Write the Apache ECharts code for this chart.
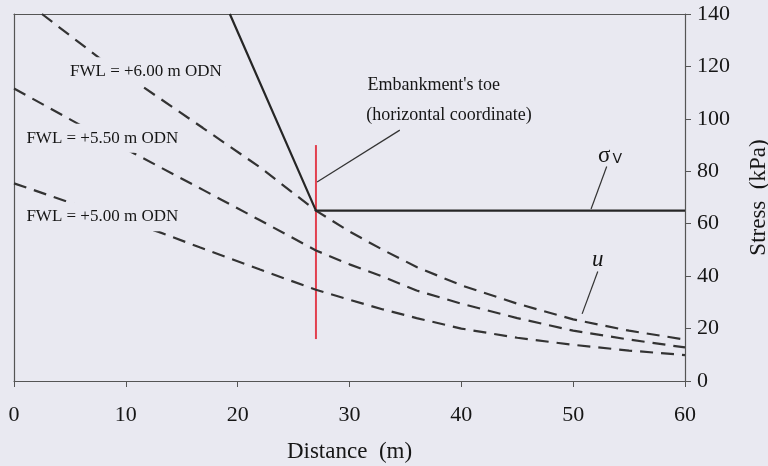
<!DOCTYPE html>
<html>
<head>
<meta charset="utf-8">
<script src="https://cdn.jsdelivr.net/npm/echarts@6/dist/echarts.min.js"></script>
<style>
  html, body { margin: 0; padding: 0; background: #e9e9f1; }
  #chart { width: 768px; height: 466px; }
</style>
</head>
<body>
<div id="chart"></div>
<script>
// Axis ticks
const xTicks = [0, 10, 20, 30, 40, 50, 60];
const yTicks = [0, 20, 40, 60, 80, 100, 120, 140];

// Total vertical stress beneath and beyond the embankment (distance m, kPa)
const sigmaV = [[19.3, 140], [27, 65], [60, 65]];

// Pore water pressure for three flood water levels (distance m, kPa)
const uFwl600 = [[2.5, 140], [7.7, 123], [11.6, 112], [16.9, 96.5], [22, 81.5], [27, 65],
  [30, 57], [33, 50], [36, 43.5], [40, 36.5], [45, 29.5], [50, 23.5], [55, 19.2], [60, 15.8]];
const uFwl550 = [[0, 111.6], [5.9, 97.7], [10.7, 86.9], [16.9, 72.9], [22, 61.3], [27, 49.8],
  [30, 44.5], [33, 39.8], [36, 34.5], [40, 29.5], [45, 24], [50, 19.2], [55, 15.8], [60, 12.8]];
const uFwl500 = [[0, 75.4], [5.2, 67.8], [10, 61], [13, 56.8], [16.6, 51], [22, 42.5], [27, 34.8],
  [30, 31], [33, 27.3], [36, 24], [40, 20], [45, 16.5], [50, 13.8], [55, 11.6], [60, 9.9]];

// Embankment toe (horizontal coordinate) marker
const toeX = 27;
const toeSpan = [16, 90];

const FONT = "'Liberation Serif', 'Times New Roman', serif";
const INK = '#161616';
const BG = '#e9e9f1';
const FRAME = '#555';

const chart = echarts.init(document.getElementById('chart'), null, { renderer: 'canvas' });

const dashed = (name, data) => ({
  name, type: 'line', data, showSymbol: false, silent: true, z: 2,
  lineStyle: { color: '#333', width: 2.2, type: [13, 8] }
});

// Curve labels (left edge of box, vertical centre) in data coordinates
const curveNotes = [
  { text: 'FWL = +6.00 m ODN', at: [4.65, 118.0] },
  { text: 'FWL = +5.50 m ODN', at: [0.75, 92.6] },
  { text: 'FWL = +5.00 m ODN', at: [0.75, 62.7] }
];
const toeNotes = [
  { text: "Embankment's toe", at: [31.6, 112.9] },
  { text: '(horizontal coordinate)', at: [31.5, 101.5] }
];

const arrows = [
  [{ coord: [34.5, 95.7] }, { coord: [27.1, 75.9] }],
  [{ coord: [53.0, 81.8] }, { coord: [51.6, 65.6] }],
  [{ coord: [52.2, 41.8] }, { coord: [50.8, 25.6] }]
];

const plainAxis = {
  axisLine: { show: true, onZero: false, lineStyle: { color: FRAME, width: 1.2 } },
  axisTick: { show: false }, axisLabel: { show: false }, splitLine: { show: false }
};

chart.setOption({
  backgroundColor: BG,
  animation: false,
  textStyle: { fontFamily: FONT, color: INK },
  grid: { left: 14, right: 83, top: 14, bottom: 85, outerBoundsMode: 'none', containLabel: false },
  xAxis: [{
    type: 'value', position: 'bottom', min: xTicks[0], max: xTicks[xTicks.length - 1], interval: 10,
    axisLine: { show: true, onZero: false, lineStyle: { color: FRAME, width: 1.2 } },
    axisTick: { show: true, inside: false, length: 6, lineStyle: { color: FRAME } },
    splitLine: { show: false },
    axisLabel: { fontFamily: FONT, fontSize: 22, color: INK, margin: 23 },
    name: 'Distance  (m)', nameLocation: 'middle', nameGap: 59,
    nameTextStyle: { fontFamily: FONT, fontSize: 23, color: INK }
  }, Object.assign({ type: 'value', position: 'top', min: 0, max: 60 }, plainAxis)],
  yAxis: [{
    type: 'value', position: 'right', min: yTicks[0], max: yTicks[yTicks.length - 1], interval: 20,
    axisLine: { show: true, onZero: false, lineStyle: { color: FRAME, width: 1.2 } },
    axisTick: { show: true, inside: false, length: 6, lineStyle: { color: FRAME } },
    splitLine: { show: false },
    axisLabel: { fontFamily: FONT, fontSize: 22, color: INK, margin: 12 },
    name: 'Stress  (kPa)', nameLocation: 'middle', nameGap: 62, nameRotate: 90,
    nameTextStyle: { fontFamily: FONT, fontSize: 23, color: INK }
  }, Object.assign({ type: 'value', position: 'left', min: 0, max: 140 }, plainAxis)],
  series: [
    {
      name: 'toe', type: 'line', data: [[toeX, toeSpan[0]], [toeX, toeSpan[1]]],
      showSymbol: false, silent: true, z: 1,
      lineStyle: { color: '#e2404f', width: 2 }
    },
    dashed('FWL +6.00', uFwl600),
    dashed('FWL +5.50', uFwl550),
    dashed('FWL +5.00', uFwl500),
    {
      name: 'sigma_v', type: 'line', data: sigmaV, showSymbol: false, silent: true, z: 3,
      lineStyle: { color: '#262626', width: 2.2 },
      markLine: {
        silent: true, symbol: ['none', 'arrow'], symbolSize: [0, 8],
        label: { show: false },
        lineStyle: { color: '#333', width: 1.2, type: 'solid' },
        data: arrows
      }
    }
  ]
});

// Text annotations, positioned through the axes' own scales
const toPx = v => chart.convertToPixel({ xAxisIndex: 0, yAxisIndex: 0 }, v);
const textEl = (n, size, boxed) => {
  const p = toPx(n.at);
  const style = {
    text: n.text, x: p[0], y: p[1], fill: INK, verticalAlign: 'middle', align: 'left',
    font: size + 'px ' + FONT
  };
  // boxed labels mask the curve they sit on
  if (boxed) { style.backgroundColor = BG; style.padding = [6, 4, 6, 4]; }
  return { type: 'text', z: 100, silent: true, style };
};
const sigPos = toPx([53.3, 86.0]);
const uPos = toPx([52.2, 46.0]);

chart.setOption({
  graphic: [
    ...curveNotes.map(n => textEl(n, 17, true)),
    ...toeNotes.map(n => textEl(n, 18, false)),
    {
      type: 'text', z: 100, silent: true,
      style: {
        x: sigPos[0], y: sigPos[1], align: 'center', verticalAlign: 'middle',
        text: '{s|σ}{v|V}',
        rich: {
          s: { fontFamily: FONT, fontSize: 23, fill: INK },
          v: { fontFamily: "'DejaVu Sans', sans-serif", fontSize: 14, fill: INK, padding: [8, 0, 0, 2] }
        }
      }
    },
    {
      type: 'text', z: 100, silent: true,
      style: {
        x: uPos[0], y: uPos[1], align: 'center', verticalAlign: 'middle',
        text: 'u', font: 'italic 23px ' + FONT, fill: INK
      }
    }
  ]
});
</script>
</body>
</html>
